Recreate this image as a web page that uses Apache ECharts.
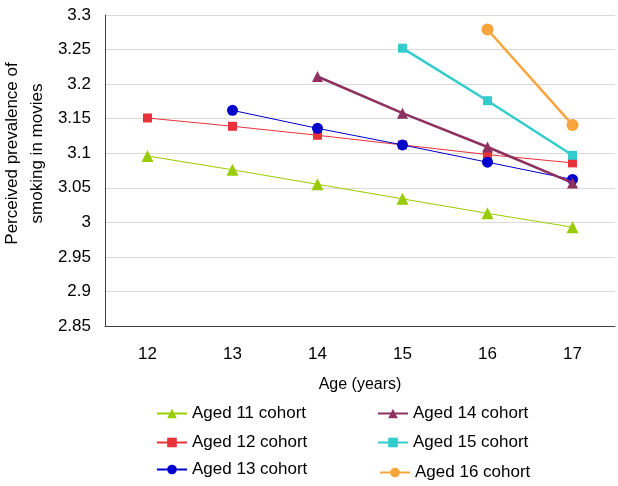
<!DOCTYPE html>
<html><head><meta charset="utf-8">
<script src="https://cdn.jsdelivr.net/npm/echarts@6/dist/echarts.min.js"></script>
<style>html,body{margin:0;padding:0;background:#fff}#c{width:618px;height:486px}</style>
</head><body><div id="c"></div>
<script>
var ages = ['12','13','14','15','16','17'];
var yTicks = [2.85, 2.9, 2.95, 3, 3.05, 3.1, 3.15, 3.2, 3.25, 3.3];
var aged11 = [3.096, 3.076, 3.055, 3.034, 3.013, 2.993];
var aged12 = [3.151, 3.139, 3.126, 3.112, 3.098, 3.086];
var aged13 = [null, 3.162, 3.136, 3.112, 3.087, 3.062];
var aged14 = [null, null, 3.211, 3.158, 3.109, 3.057];
var aged15 = [null, null, null, 3.252, 3.176, 3.097];
var aged16 = [null, null, null, null, 3.279, 3.141];
var names = ['Aged 11 cohort','Aged 12 cohort','Aged 13 cohort','Aged 14 cohort','Aged 15 cohort','Aged 16 cohort'];

var FONT = '"Liberation Sans", Arial, sans-serif';
var styles = [
  {data: aged11, color: '#99cc00', symbol: 'triangle', size: 12, width: 1},
  {data: aged12, color: '#e8323a', symbol: 'rect', size: 9, width: 1},
  {data: aged13, color: '#0000cc', symbol: 'circle', size: 11, width: 1},
  {data: aged14, color: '#8e3161', symbol: 'triangle', size: 11, width: 2.5},
  {data: aged15, color: '#33cccc', symbol: 'rect', size: 9, width: 2.5},
  {data: aged16, color: '#f8a43c', symbol: 'circle', size: 12, width: 2.5}
];
var series = styles.map(function (s, i) {
  return {
    name: names[i], type: 'line', data: s.data, symbol: s.symbol, symbolSize: s.size,
    showAllSymbol: true, connectNulls: false,
    lineStyle: {color: s.color, width: s.width}, itemStyle: {color: s.color},
    emphasis: {disabled: true}, z: 2 + i
  };
});
var legendPos = [
  {left: 151, top: 400}, {left: 151, top: 429}, {left: 151, top: 456},
  {left: 372, top: 400}, {left: 372, top: 429}, {left: 374, top: 459}
];
var legends = names.map(function (n, i) {
  return {
    data: [n], left: legendPos[i].left, top: legendPos[i].top, orient: 'horizontal',
    itemWidth: 30, itemHeight: 12, itemGap: 4,
    textStyle: {fontFamily: FONT, fontSize: 17, color: '#000'},
    selectedMode: false
  };
});
var chart = echarts.init(document.getElementById('c'), null, {renderer: 'canvas'});
chart.setOption({
  animation: false,
  backgroundColor: '#fff',
  grid: {left: 105, right: 3, top: 15, bottom: 160, containLabel: false, outerBoundsMode: 'none'},
  legend: legends,
  xAxis: {
    type: 'category', data: ages, boundaryGap: true,
    name: 'Age (years)', nameLocation: 'middle', nameGap: 51,
    nameTextStyle: {fontFamily: FONT, fontSize: 16, color: '#000'},
    axisLine: {lineStyle: {color: '#404040', width: 1}},
    axisTick: {show: false},
    axisLabel: {fontFamily: FONT, fontSize: 17, color: '#000', margin: 20}
  },
  yAxis: {
    type: 'value', min: yTicks[0], max: yTicks[yTicks.length - 1], interval: 0.05,
    name: 'Perceived prevalence of\nsmoking in movies', nameLocation: 'middle', nameGap: 55,
    nameMoveOverlap: false,
    nameTextStyle: {fontFamily: FONT, fontSize: 17, color: '#000', lineHeight: 25, padding: [0, 0, 0, 34]},
    axisLine: {show: true, lineStyle: {color: '#404040', width: 1}},
    axisTick: {show: false},
    axisLabel: {fontFamily: FONT, fontSize: 17, color: '#000', margin: 14,
      formatter: function (v) { return String(Math.round(v * 100) / 100); }},
    splitLine: {lineStyle: {color: '#d9d9d9', width: 1}}
  },
  series: series
});
</script></body></html>
